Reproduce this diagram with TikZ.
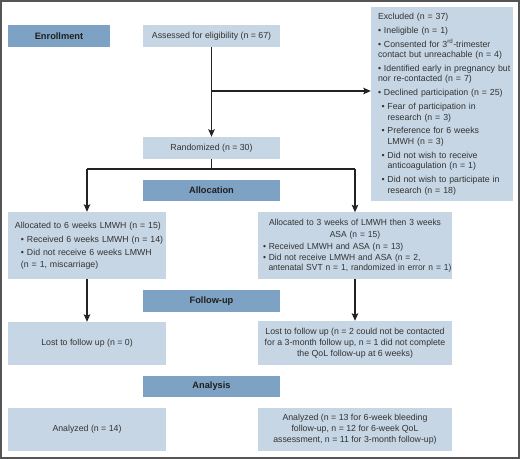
\documentclass[tikz,border=0pt]{standalone}
\usepackage{fontspec}
\setmainfont{Liberation Sans}
\usetikzlibrary{arrows.meta}
\definecolor{boxc}{HTML}{C6D6E4}
\definecolor{hdrc}{HTML}{7EA2C3}
\definecolor{txtc}{HTML}{333333}
\definecolor{framec}{HTML}{555555}
\definecolor{linec}{HTML}{222222}
\newcommand\loose{\rightskip=-30bp plus 1fil\relax}
\newcommand\exT[1]{\loose\leftskip=6bp\hangindent=0bp #1}
\newcommand\exA[1]{\par\leftskip=6bp\hangindent=0bp •~#1}
\newcommand\exB[1]{\par\leftskip=9.5bp\hangindent=6bp\hangafter=1 •~#1}
\newcommand\alT[1]{\loose\leftskip=6bp\hangindent=0bp #1}
\newcommand\alA[1]{\par\leftskip=12bp\hangindent=0bp •~#1}
\newcommand\arA[1]{\par\loose\leftskip=4bp\hangindent=5.5bp\hangafter=1 •~#1}
\begin{document}
\begin{tikzpicture}[x=1bp,y=-1bp,
  box/.style={fill=boxc, inner sep=0pt, text=txtc, font=\fontsize{8.8}{11}\selectfont},
  hdr/.style={fill=hdrc, inner sep=0pt, text=black!88, font=\fontsize{9.3}{11}\selectfont\bfseries, minimum height=22bp, minimum width=137bp},
  cbox/.style={box, align=center},
  arr/.style={draw=linec, line width=1.1bp, -{Stealth[length=7.5bp,width=6.5bp,inset=1.5bp]}},
  ln/.style={draw=linec, line width=1.1bp}]
\useasboundingbox (0,0) rectangle (520,459);
\draw[framec, line width=1.6bp] (0.8,0.8) rectangle (518.7,457.7);

% headers
\node[hdr, minimum width=102bp] (enroll) at (59,36) {Enrollment};
\node[hdr, minimum height=21bp] (alloc) at (211.5,190.5) {Allocation};
\node[hdr] (fu) at (211.5,301) {Follow-up};
\node[hdr, minimum height=21bp] (ana) at (211.5,386.5) {Analysis};

% boxes
\node[cbox, minimum width=137bp, minimum height=22bp] (assess) at (211.5,36) {Assessed for eligibility (n = 67)};
\node[cbox, minimum width=137bp, minimum height=22bp] (rand) at (211.5,148) {Randomized (n = 30)};

\node[box, minimum width=142bp, minimum height=194bp, text width=140bp, align=left,
      font=\fontsize{8.8}{10.5}\selectfont] (excl) at (442,104)
  {\setlength{\parskip}{3.4bp}\exT{Excluded (n = 37)}%
   \exA{Ineligible (n = 1)}%
   \exA{Consented for 3\textsuperscript{rd}-trimester\newline contact but unreachable (n = 4)}%
   \exA{Identified early in pregnancy but\newline nor re-contacted (n = 7)}%
   \exA{Declined participation (n = 25)}%
   \exB{Fear of participation in\newline research (n = 3)}%
   \exB{Preference for 6 weeks\newline LMWH (n = 3)}%
   \exB{Did not wish to receive\newline anticoagulation (n = 1)}%
   \exB{Did not wish to participate in\newline research (n = 18)}\par};

\node[box, minimum width=158bp, minimum height=67bp, text width=156bp, align=left,
      font=\fontsize{8.8}{11.2}\selectfont] (al) at (87,245.5)
  {\setlength{\parskip}{2.5bp}\alT{Allocated to 6 weeks LMWH (n = 15)}%
   \alA{Received 6 weeks LMWH (n = 14)}%
   \alA{Did not receive 6 weeks LMWH\newline (n = 1, miscarriage)}\par};

\node[box, minimum width=194bp, minimum height=66bp, text width=192bp, align=left,
      font=\fontsize{8.8}{12}\selectfont\addfontfeature{FakeStretch=0.965}] (ar) at (355,245.5)
  {\setlength{\parskip}{0bp}{\centering Allocated to 3 weeks of LMWH then 3 weeks\\ ASA (n = 15)\par}%
   \vspace{2.2bp}\fontsize{8.8}{10.4}\selectfont
   \arA{Received LMWH and ASA (n = 13)}%
   \arA{Did not receive LMWH and ASA (n = 2,\newline antenatal SVT n = 1, randomized in error n = 1)}\par};

\node[cbox, minimum width=158bp, minimum height=43bp] (ll) at (87,343.5) {Lost to follow up (n = 0)};
\node[cbox, minimum width=194bp, minimum height=44bp] (lr) at (355,343)
  {Lost to follow up (n = 2 could not be contacted\\ for a 3-month follow up, n = 1 did not complete\\ the QoL follow-up at 6 weeks)};

\node[cbox, minimum width=158bp, minimum height=43bp] (anl) at (87,429.5) {Analyzed (n = 14)};
\node[cbox, minimum width=194bp, minimum height=43bp] (anr) at (355,429.5)
  {Analyzed (n = 13 for 6-week bleeding\\ follow-up, n = 12 for 6-week QoL\\ assessment, n = 11 for 3-month follow-up)};

% connectors
\coordinate (j1) at (assess.south |- 0,91);
\coordinate (j2) at (rand.south |- 0,169);
\coordinate (jl) at (al.north |- j2);
\coordinate (jr) at (ar.north |- j2);
\draw[arr] (assess.south) -- (rand.north);
\draw[arr] (j1) -- (j1 -| excl.west);
\draw[ln] (rand.south) -- (j2);
\draw[ln] (jl) -- (jr);
\draw[arr] (jl) -- (al.north);
\draw[arr] (jr) -- (ar.north);
\draw[arr] (al.south) -- (ll.north);
\draw[arr] (ar.south) -- (lr.north);
\end{tikzpicture}
\end{document}
